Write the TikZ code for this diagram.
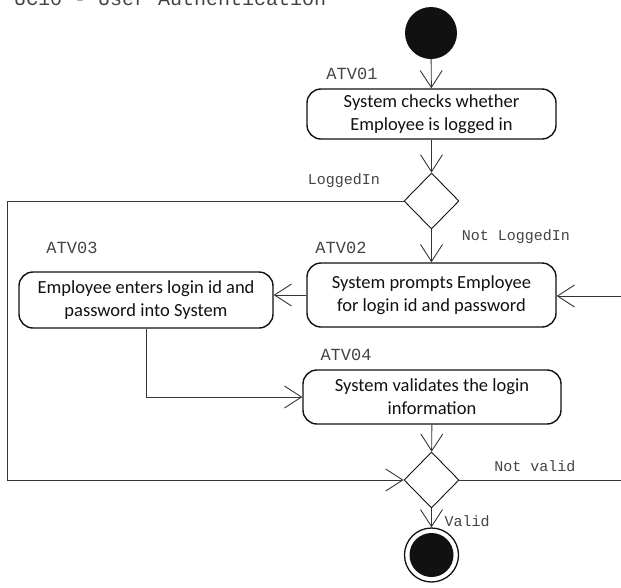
\documentclass[tikz,border=0pt]{standalone}
\usepackage{fontspec}
\setmainfont{Carlito}
\newfontfamily\monof{Liberation Mono}
\usetikzlibrary{arrows.meta,shapes.geometric}
\definecolor{ink}{HTML}{111111}
\definecolor{lbl}{HTML}{444444}
\tikzset{
  act/.style={draw=ink, line width=1.4pt, rounded corners=14pt, align=center,
    font=\fontsize{18.5}{23}\selectfont, text=ink, inner sep=0pt},
  dec/.style={draw=ink, line width=0.9pt, diamond, minimum width=55pt, minimum height=56pt, inner sep=0pt, aspect=1},
  arr/.style={draw=ink!85, line width=0.9pt, -{Straight Barb[length=17pt,width=22pt,line width=0.9pt]}},
  ln/.style={draw=ink!85, line width=0.9pt},
  tag/.style={font=\monof\fontsize{17}{17}\selectfont, text=lbl, inner sep=0pt},
  guard/.style={font=\monof\fontsize{15}{15}\selectfont, text=lbl, inner sep=0pt}
}
\begin{document}
\begin{tikzpicture}[x=1pt,y=-1pt]
\useasboundingbox (0,0) rectangle (621,587);
% title (cut at top)
\node[font=\monof\fontsize{20}{20}\selectfont, text=lbl, anchor=base west, inner sep=0pt] (title) at (14,5) {UC10 - User Authentication};
% start
\node[circle, fill=ink, minimum size=52pt, inner sep=0pt] (start) at (431,33) {};
% activities
\node[act, minimum width=249pt, minimum height=50pt] (a1) at (431.5,114) {System checks whether\\Employee is logged in};
\node[tag] (t1) at (352,74) {ATV01};
\node[dec] (d1) at (431.5,201) {};
\node[act, minimum width=249pt, minimum height=64pt] (a2) at (431.5,295) {System prompts Employee\\for login id and password};
\node[tag] (t2) at (341,248) {ATV02};
\node[act, minimum width=254pt, minimum height=56pt] (a3) at (146,300) {Employee enters login id and\\password into System};
\node[tag] (t3) at (72,248) {ATV03};
\node[act, minimum width=258pt, minimum height=54pt] (a4) at (432,397) {System validates the login\\information};
\node[tag] (t4) at (346,355) {ATV04};
\node[dec] (d2) at (431.5,480) {};
% end
\node[circle, draw=ink, line width=1.3pt, minimum size=54pt, inner sep=0pt] (end) at (431.5,555) {};
\node[circle, fill=ink, minimum size=44pt, inner sep=0pt] (endin) at (431.5,555) {};
% guards
\node[guard] (g1) at (344,181) {LoggedIn};
\node[guard] (g2) at (516,237) {Not LoggedIn};
\node[guard] (g3) at (535,466) {Not valid};
\node[guard] (g4) at (467,521) {Valid};
% helper coordinates
\coordinate (tl) at (7.5,201);
\coordinate (rin) at (625,296);
\coordinate (rout) at (625,480);
% connectors
\draw[arr] (start) -- (a1);
\draw[arr] (a1) -- (d1);
\draw[arr] (d1.west) -- (tl) |- (d2.west);
\draw[arr] (d1) -- (a2);
\draw[arr] (a2.west) -- (a2.west -| a3.east);
\draw[arr] (rin) -- (rin -| a2.east);
\draw[arr] (a3.south) |- (a4.west);
\draw[arr] (a4) -- (d2);
\draw[ln] (d2.east) -- (rout);
\draw[arr] (d2) -- (end);
\end{tikzpicture}
\end{document}
